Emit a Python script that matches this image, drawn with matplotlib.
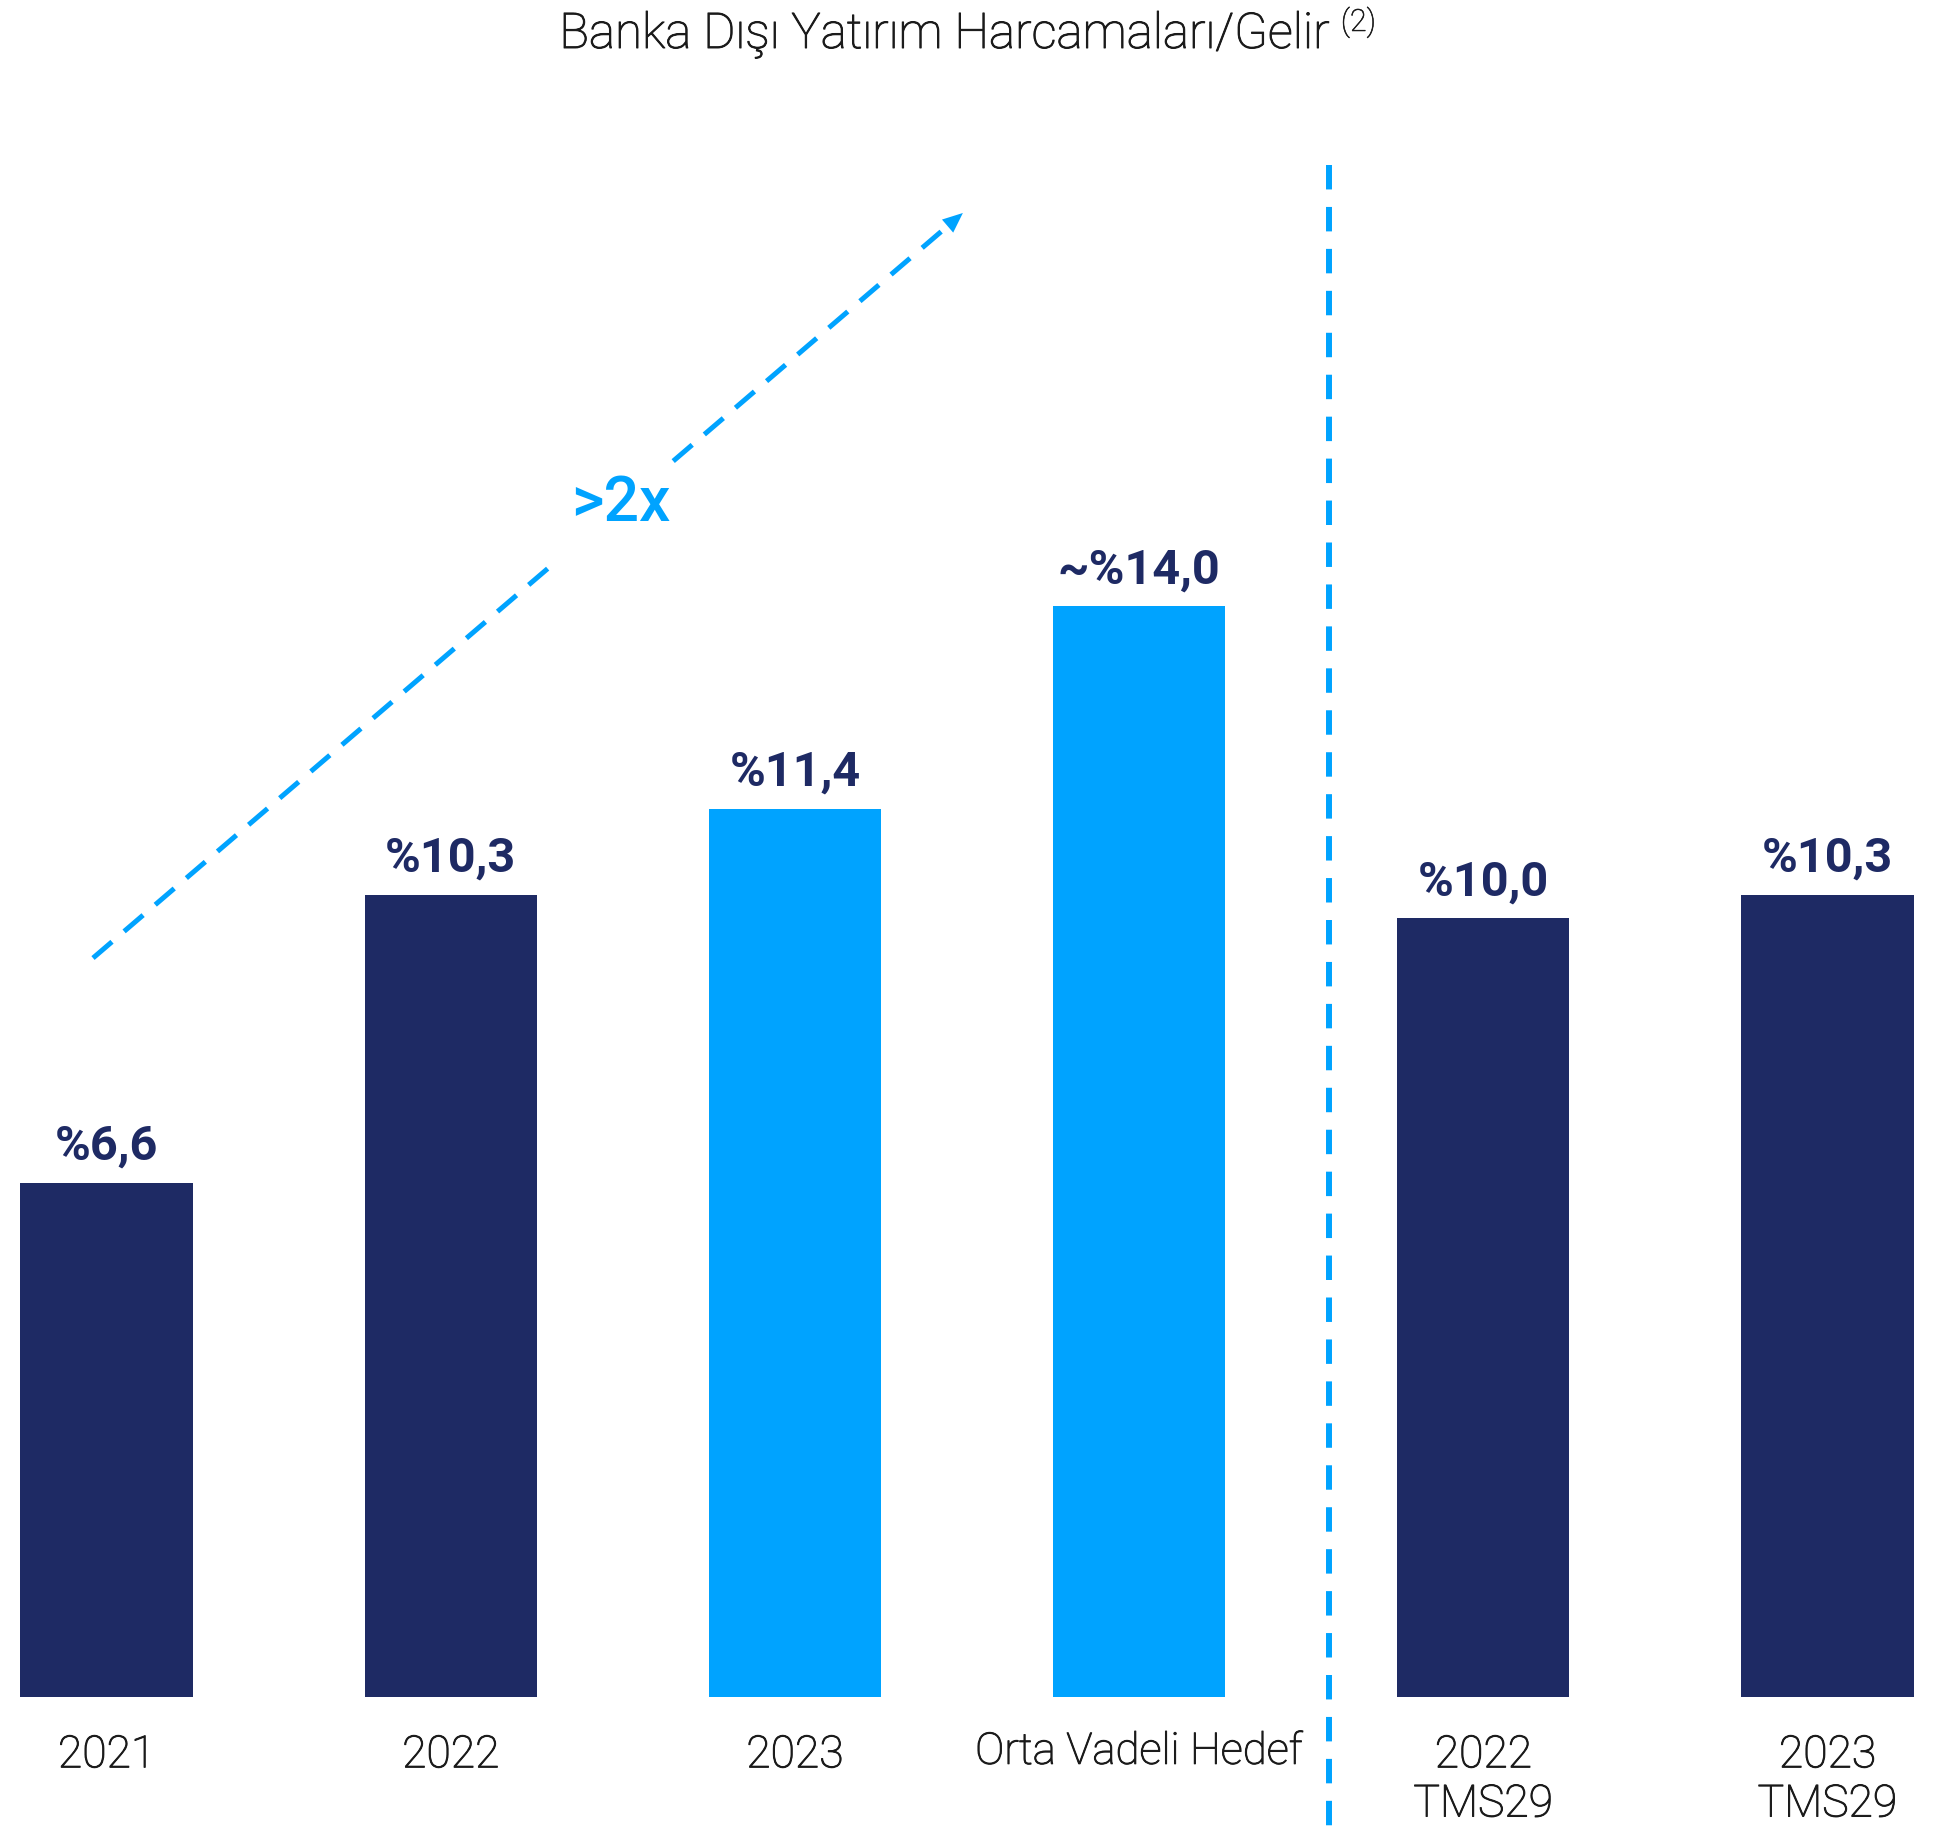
import matplotlib
matplotlib.use("Agg")
import matplotlib.pyplot as plt
import matplotlib.patheffects as pe

plt.rcParams['font.family'] = ['Roboto', 'DejaVu Sans']
plt.rcParams['lines.scale_dashes'] = False

# ---- data ----
categories = ["2021", "2022", "2023", "Orta Vadeli Hedef", "2022\nTMS29", "2023\nTMS29"]
values = [6.6, 10.3, 11.4, 14.0, 10.0, 10.3]
value_labels = ["%6,6", "%10,3", "%11,4", "~%14,0", "%10,0", "%10,3"]
highlight = [False, False, True, True, False, False]
title = "Banka Dışı Yatırım Harcamaları/Gelir"
title_note = "(2)"
growth_label = ">2x"

NAVY = "#1E2A64"
BLUE = "#00A3FF"
TEXT = "#1A1A1A"
thicken = [pe.withStroke(linewidth=0.7, foreground=TEXT)]

fig = plt.figure(figsize=(19.48, 18.30), dpi=100)
ax = fig.add_axes([0, 0, 1, 1])
ax.set_xlim(-0.3094, 5.350)
ax.set_ylim(-1.707, 21.784)
ax.axis("off")

x = list(range(len(categories)))
colors = [BLUE if h else NAVY for h in highlight]
bars = ax.bar(x, values, width=0.5, color=colors, zorder=2)

for xi, v, lab in zip(x, values, value_labels):
    ax.annotate(lab, xy=(xi, v), xytext=(0, 16.5), textcoords="offset points",
                ha="center", va="baseline", fontsize=35, fontweight="bold",
                color=NAVY)

for xi, cat in zip(x, categories):
    small = (cat == "Orta Vadeli Hedef")
    ax.annotate(cat, xy=(xi, 0), xytext=(0, -24 if small else -26.5),
                textcoords="offset points", ha="center", va="top",
                fontsize=31.5 if small else 32, fontweight="light",
                color=TEXT, linespacing=1.2, multialignment="center",
                path_effects=thicken)

# growth arrow (dashed, with a gap for the label)
x0, y0 = -0.0392, 9.486
x1, y1 = 2.488, 19.05
t_gap1, t_gap2, t_head = 0.526, 0.667, 0.975
def pt(t):
    return x0 + (x1 - x0) * t, y0 + (y1 - y0) * t
dash = (0, (18, 11.5))
for ta, tb in [(0.0, t_gap1), (t_gap2, t_head)]:
    pa, pb = pt(ta), pt(tb)
    ax.plot([pa[0], pb[0]], [pa[1], pb[1]], color=BLUE, lw=3.6,
            linestyle=dash, solid_capstyle="butt", dash_capstyle="butt", zorder=3)
hb = pt(0.955)
ax.annotate("", xy=(x1, y1), xytext=hb,
            arrowprops=dict(arrowstyle="-|>,head_length=1.45,head_width=0.62",
                            color=BLUE, lw=0, shrinkA=0, shrinkB=0), zorder=3)
ax.text(1.495, 15.31, growth_label, ha="center", va="center", fontsize=45,
        fontweight="medium", color=BLUE, zorder=4)

# vertical separator
ax.plot([3.552, 3.552], [19.67, -1.707], color=BLUE, lw=4.3,
        linestyle=(0, (17.6, 12.6)), dash_capstyle="butt", clip_on=False, zorder=3)

# title
t = fig.text(0.4845, 1 - 48 / 1830, title, ha="center", va="baseline",
             fontsize=35.5, fontweight="light", color=TEXT, path_effects=thicken)
ax.annotate(title_note, xy=(1, 1), xycoords=t, xytext=(9, 4),
            textcoords="offset points", ha="left", va="top", fontsize=22,
            fontweight="light", color=TEXT, annotation_clip=False,
            path_effects=[pe.withStroke(linewidth=0.4, foreground=TEXT)])

fig.savefig("out.png", dpi=100, facecolor="white")
